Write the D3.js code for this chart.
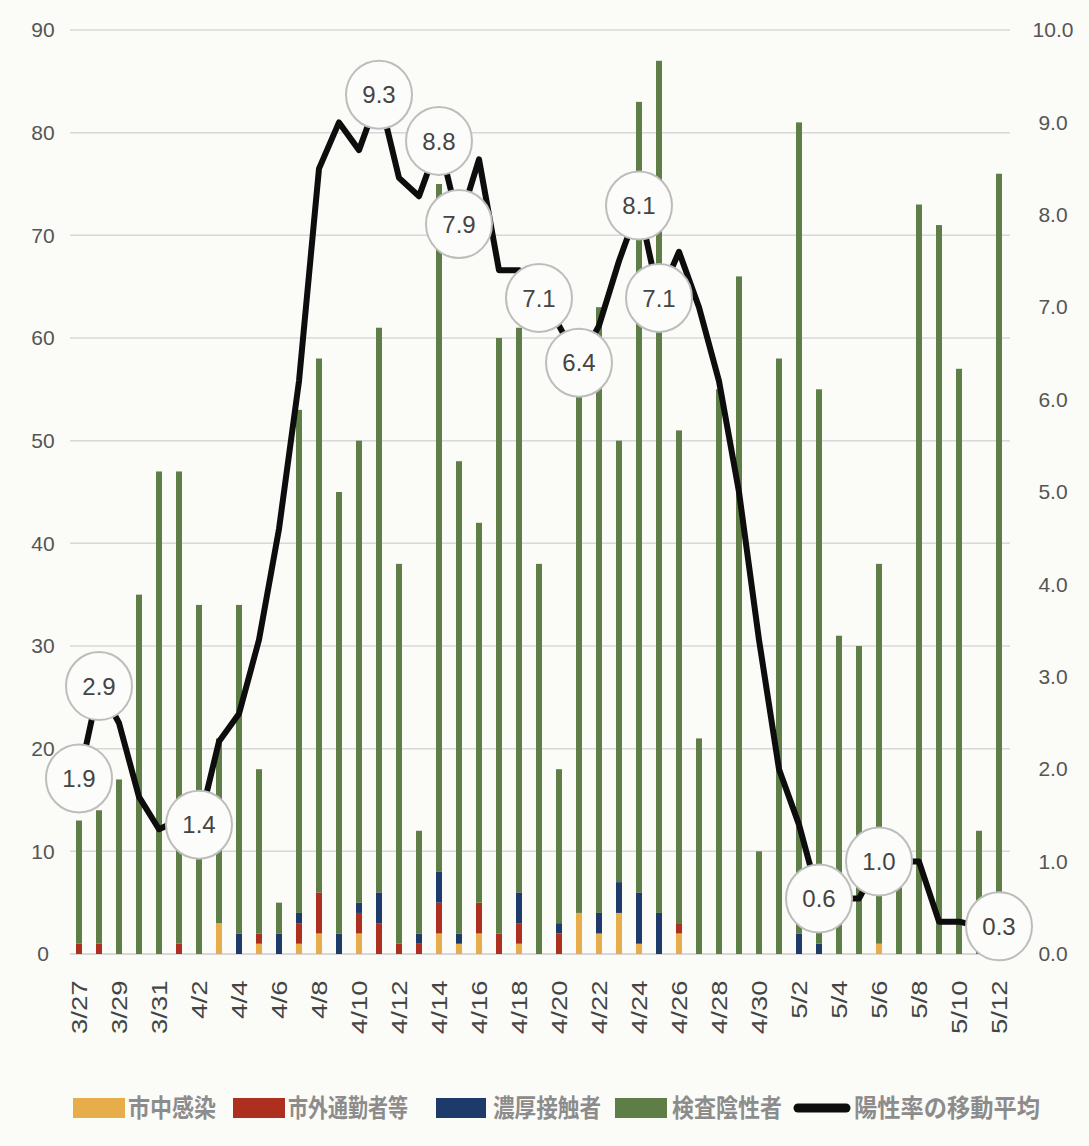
<!DOCTYPE html>
<html>
<head>
<meta charset="utf-8">
<script src="https://cdn.jsdelivr.net/npm/d3@7"></script>
<style>
  html, body { margin: 0; padding: 0; background: #fbfbf7; }
  svg { display: block; }
</style>
</head>
<body>
<svg id="chart"></svg>
<script>
// dates 3/27 - 5/12
const dates = ['3/27','3/28','3/29','3/30','3/31',
  '4/1','4/2','4/3','4/4','4/5','4/6','4/7','4/8','4/9','4/10','4/11','4/12','4/13','4/14','4/15',
  '4/16','4/17','4/18','4/19','4/20','4/21','4/22','4/23','4/24','4/25','4/26','4/27','4/28','4/29','4/30',
  '5/1','5/2','5/3','5/4','5/5','5/6','5/7','5/8','5/9','5/10','5/11','5/12']

// bar totals (all tested)
const totals = [13,14,17,35,47, 47,34,21,34,18,5,53,58,45,50,61,38,12,75,48,
  42,60,61,38,18,60,63,50,83,87,51,21,55,66,10, 58,81,55,31,30,38,9,73,71,57,12,76]

// 市中感染
const shichu = [0,0,0,0,0, 0,0,3,0,1,0,1,2,0,2,0,0,0,2,1,
  2,0,1,0,0,4,2,4,1,0,2,0,0,0,0, 0,0,0,0,0,1,0,0,0,0,0,0]
// 市外通勤者等
const shigai = [1,1,0,0,0, 1,0,0,0,1,0,2,4,0,2,3,1,1,3,0,
  3,2,2,0,2,0,0,0,0,0,1,0,0,0,0, 0,0,0,0,0,0,0,0,0,0,0,0]
// 濃厚接触者
const noko = [0,0,0,0,0, 0,0,0,2,0,2,1,0,2,1,3,0,1,3,1,
  0,0,3,0,1,0,2,3,5,4,0,0,0,0,0, 0,2,1,0,0,0,0,0,0,0,0,0]
// 陽性率の移動平均 (%)
const rate = [1.9,2.9,2.5,1.7,1.35, 1.45,1.4,2.3,2.6,3.4,4.6,6.2,8.5,9.0,8.7,9.3,8.4,8.2,8.8,7.9,
  8.6,7.4,7.4,7.1,6.8,6.4,6.8,7.5,8.1,7.1,7.6,7.0,6.2,5.0,3.4, 2.0,1.4,0.6,0.6,0.6,1.0,1.0,1.0,0.35,0.35,0.3,0.3]

// circled labels on the line
const labelDates = ['3/27','3/28','4/2','4/11','4/14','4/15','4/19','4/21','4/24','4/25','5/3','5/6','5/12']

const leftTicks = [0,10,20,30,40,50,60,70,80,90]
const rightTicks = [0,1,2,3,4,5,6,7,8,9,10]

const seriesNames = ['市中感染','市外通勤者等','濃厚接触者','検査陰性者']
const colors = ['#e6ad4a','#ad2f1f','#1e3a6a','#5f7d47']

const width = 1089, height = 1146
const svg = d3.select('#chart').attr('width', width).attr('height', height)

const x = d3.scaleBand()
  .domain(dates)
  .range([69, 1009])
  .paddingInner(0.7)
  .paddingOuter(0.35)

const y = d3.scaleLinear().domain([0, 90]).range([954, 30])
const y2 = d3.scaleLinear().domain([0, 10]).range([954, 30])

const numFont = '"Liberation Sans Narrow", "Liberation Sans", sans-serif'

// grid
svg.append('g')
  .selectAll('line')
  .data(leftTicks)
  .join('line')
  .attr('x1', 70).attr('x2', 1010)
  .attr('y1', d => y(d)).attr('y2', d => y(d))
  .attr('stroke', d => d === 0 ? '#cbcbcb' : '#d8d8d8')
  .attr('stroke-width', 1.5)

// left axis
const ax = svg.append('g')
  .attr('transform', 'translate(43,0)')
  .call(d3.axisLeft(y).tickValues(leftTicks).tickSize(0).tickPadding(0))
ax.select('.domain').remove()
ax.selectAll('text')
  .attr('text-anchor', 'middle')
  .attr('font-family', numFont)
  .attr('font-size', 21)
  .attr('fill', '#555')

// right axis
const ax2 = svg.append('g')
  .attr('transform', 'translate(1053,0)')
  .call(d3.axisRight(y2).tickValues(rightTicks).tickSize(0).tickPadding(0).tickFormat(d3.format('.1f')))
ax2.select('.domain').remove()
ax2.selectAll('text')
  .attr('text-anchor', 'middle')
  .attr('font-family', numFont)
  .attr('font-size', 21)
  .attr('fill', '#555')

// bottom axis, every other date
const axb = svg.append('g')
  .attr('transform', 'translate(0,968)')
  .call(d3.axisBottom(x).tickValues(dates.filter((d, i) => i % 2 === 0)).tickSize(0).tickPadding(0))
axb.select('.domain').remove()
axb.selectAll('text')
  .attr('transform', 'rotate(-90) scale(1.25,1)')
  .attr('text-anchor', 'end')
  .attr('dy', '0.35em')
  .attr('x', -10)
  .attr('y', 0)
  .attr('font-family', numFont)
  .attr('font-size', 22)
  .attr('fill', '#444')

// stacked bars
const rows = dates.map((d, i) => ({
  date: d,
  '市中感染': shichu[i],
  '市外通勤者等': shigai[i],
  '濃厚接触者': noko[i],
  '検査陰性者': totals[i] - shichu[i] - shigai[i] - noko[i]
}))
const stack = d3.stack().keys(seriesNames)(rows)

svg.append('g')
  .selectAll('g')
  .data(stack)
  .join('g')
  .attr('fill', (d, i) => colors[i])
  .selectAll('rect')
  .data(d => d)
  .join('rect')
  .attr('x', d => x(d.data.date))
  .attr('width', x.bandwidth())
  .attr('y', d => y(d[1]))
  .attr('height', d => y(d[0]) - y(d[1]))

// moving average line
const line = d3.line()
  .x((d, i) => x(dates[i]) + x.bandwidth() / 2)
  .y(d => y2(d))

svg.append('path')
  .datum(rate)
  .attr('d', line)
  .attr('fill', 'none')
  .attr('stroke', '#0d0d0d')
  .attr('stroke-width', 6)
  .attr('stroke-linejoin', 'round')

// circled values
const lab = svg.append('g')
  .selectAll('g')
  .data(labelDates)
  .join('g')
  .attr('transform', d => {
    const i = dates.indexOf(d)
    return 'translate(' + (x(d) + x.bandwidth() / 2) + ',' + y2(rate[i]) + ')'
  })
lab.append('ellipse')
  .attr('rx', 33).attr('ry', 34)
  .attr('fill', '#fcfcfa')
  .attr('stroke', '#bdbdbd')
  .attr('stroke-width', 2)
lab.append('text')
  .attr('text-anchor', 'middle')
  .attr('dy', '0.36em')
  .attr('font-family', numFont)
  .attr('font-size', 24)
  .attr('fill', '#444')
  .text(d => d3.format('.1f')(rate[dates.indexOf(d)]))

// legend
const legendItems = [
  {name: seriesNames[0], color: colors[0], sx: 73, sw: 52, tx: 128, tw: 88},
  {name: seriesNames[1], color: colors[1], sx: 233, sw: 52, tx: 288, tw: 120},
  {name: seriesNames[2], color: colors[2], sx: 436, sw: 50, tx: 493, tw: 108},
  {name: seriesNames[3], color: colors[3], sx: 615, sw: 52, tx: 672, tw: 110},
  {name: '陽性率の移動平均', color: '#0d0d0d', sx: 794, sw: 56, tx: 854, tw: 186, line: true}
]
const lg = svg.append('g').attr('transform', 'translate(0,1108)')
legendItems.forEach(it => {
  if (it.line) {
    lg.append('line')
      .attr('x1', it.sx + 4).attr('x2', it.sx + it.sw - 4)
      .attr('y1', 0).attr('y2', 0)
      .attr('stroke', it.color).attr('stroke-width', 9)
      .attr('stroke-linecap', 'round')
  } else {
    lg.append('rect')
      .attr('x', it.sx).attr('y', -10)
      .attr('width', it.sw).attr('height', 20)
      .attr('fill', it.color)
  }
  lg.append('text')
    .attr('x', it.tx).attr('y', 0)
    .attr('dy', '0.36em')
    .attr('font-family', '"Noto Sans CJK JP", sans-serif')
    .attr('font-size', 25)
    .attr('font-weight', 'bold')
    .attr('textLength', it.tw)
    .attr('lengthAdjust', 'spacingAndGlyphs')
    .attr('fill', '#8c8c8c')
    .text(it.name)
})
</script>
</body>
</html>
